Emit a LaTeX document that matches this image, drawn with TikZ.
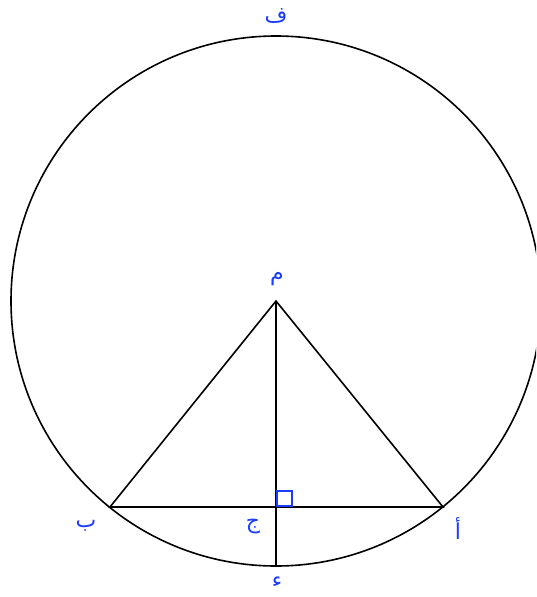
\documentclass[tikz,border=0pt]{standalone}
\usepackage{fontspec}
\TeXXeTstate=1
\newfontfamily\arabicfont[Script=Arabic]{DejaVu Sans}
\definecolor{lblue}{RGB}{25,60,255}
\begin{document}
\begin{tikzpicture}[x=1pt,y=-1pt,
  seg/.style={black,line width=1.6pt},
  lbl/.style={text=lblue,font=\arabicfont\fontsize{22}{24}\selectfont,inner sep=0pt}]
\useasboundingbox (0,0) rectangle (536,597);
\clip (0,0) rectangle (536,597);
\coordinate (M) at (276,301);
\coordinate (A) at (443,507);
\coordinate (B) at (110,507);
\coordinate (J) at (276,507);
\coordinate (D) at (276,566);
\draw[seg] (M) circle (265);
\draw[seg] (B) -- (M) -- (A) -- cycle;
\draw[seg] (M) -- (D);
\draw[lblue,line width=1.4pt] ([xshift=1pt,yshift=1pt]J) rectangle ([xshift=16pt,yshift=16pt]J);
\node[lbl] (lf) at (276,16) {\beginR ف\endR};
\node[lbl] (lm) at (277,279) {\beginR م\endR};
\node[lbl] (lb) at (86,526) {\beginR ب\endR};
\node[lbl] (lj) at (253,527) {\beginR ج\endR};
\node[lbl] (la) at (458,529) {\beginR أ\endR};
\node[lbl] (ld) at (277,582) {\beginR ء\endR};
\end{tikzpicture}
\end{document}
